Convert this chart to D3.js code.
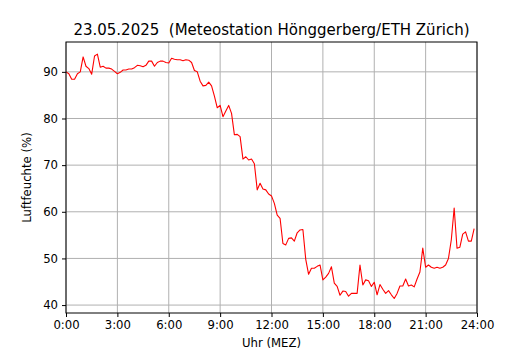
<!DOCTYPE html>
<html>
<head>
<meta charset="utf-8">
<script src="https://cdn.jsdelivr.net/npm/d3@7"></script>
<style>
  body { margin: 0; background: #fff; }
  svg { display: block; font-family: "DejaVu Sans", sans-serif; }
</style>
</head>
<body>
<div id="chart"></div>
<script>
// Luftfeuchte 23.05.2025, Werte alle 10 Minuten ab 0:00
const stepMinutes = 10;
const humidity = [
  90.0, 89.6, 88.4, 88.4, 89.6, 90.0, 93.2, 91.2, 90.7, 89.5, 93.4, 93.8,
  91.0, 91.2, 90.8, 90.8, 90.6, 90.1, 89.6, 89.9, 90.4, 90.4, 90.6, 90.6,
  90.9, 91.4, 91.3, 91.1, 91.4, 92.3, 92.3, 91.2, 92.0, 92.3, 92.3, 92.0,
  91.9, 92.9, 92.7, 92.6, 92.6, 92.4, 92.6, 92.5, 92.0, 90.3, 90.0, 88.0,
  87.0, 87.1, 87.8, 87.0, 84.8, 82.3, 82.8, 80.4, 81.6, 82.8, 81.1, 76.5,
  76.6, 76.1, 71.3, 71.8, 71.1, 71.3, 70.3, 64.7, 66.1, 64.9, 64.7, 63.8,
  63.4, 61.8, 59.3, 58.6, 53.2, 52.9, 54.3, 54.4, 53.7, 55.5, 56.1, 56.2,
  49.8, 46.6, 47.9, 47.9, 48.3, 48.6, 45.4, 46.0, 46.8, 48.2, 44.7, 44.0,
  42.1, 43.0, 42.9, 41.9, 42.5, 42.5, 42.5, 48.6, 44.3, 45.4, 45.2, 44.0,
  44.9, 42.2, 44.4, 43.4, 42.5, 43.1, 42.2, 41.4, 42.5, 44.1, 44.1, 45.6,
  44.1, 44.3, 43.9, 45.6, 47.1, 52.2, 48.1, 48.6, 48.1, 47.9, 48.1, 47.9,
  48.1, 48.6, 50.0, 54.0, 60.8, 52.2, 52.4, 55.2, 55.7, 53.7, 53.7, 56.4
];
const xTicks = [0, 3, 6, 9, 12, 15, 18, 21, 24];
const xTickLabels = ['0:00', '3:00', '6:00', '9:00', '12:00', '15:00', '18:00', '21:00', '24:00'];
const yTicks = [40, 50, 60, 70, 80, 90];
const titleText = '23.05.2025  (Meteostation Hönggerberg/ETH Zürich)';

const width = 530, height = 350;
const margin = { top: 42, right: 53, bottom: 37, left: 66 };
const w = width - margin.left - margin.right;
const h = height - margin.top - margin.bottom;

const data = humidity.map((v, i) => ({ hour: i * stepMinutes / 60, value: v }));

const svg = d3.select('#chart').append('svg')
  .attr('width', width)
  .attr('height', height);

const g = svg.append('g')
  .attr('transform', `translate(${margin.left},${margin.top})`);

const x = d3.scaleLinear().domain([0, 24]).range([0, w]);
const y = d3.scaleLinear().domain([38.3, 96.4]).range([h, 0]);

// grid
g.append('g')
  .selectAll('line')
  .data(xTicks)
  .join('line')
  .attr('x1', d => x(d)).attr('x2', d => x(d))
  .attr('y1', 0).attr('y2', h)
  .attr('stroke', '#b0b0b0').attr('stroke-width', 1);

g.append('g')
  .selectAll('line')
  .data(yTicks)
  .join('line')
  .attr('x1', 0).attr('x2', w)
  .attr('y1', d => y(d)).attr('y2', d => y(d))
  .attr('stroke', '#b0b0b0').attr('stroke-width', 1);

// line
const line = d3.line()
  .x(d => x(d.hour))
  .y(d => y(d.value));

g.append('path')
  .datum(data)
  .attr('fill', 'none')
  .attr('stroke', '#ff0000')
  .attr('stroke-width', 1.1)
  .attr('stroke-linejoin', 'round')
  .attr('d', line);

// axes
const xAxis = g.append('g')
  .attr('transform', `translate(0,${h})`)
  .call(d3.axisBottom(x).tickValues(xTicks).tickFormat((d, i) => xTickLabels[i]).tickSize(4).tickPadding(4));

const yAxis = g.append('g')
  .call(d3.axisLeft(y).tickValues(yTicks).tickSize(4).tickPadding(4));

[xAxis, yAxis].forEach(ax => {
  ax.select('.domain').remove();
  ax.selectAll('line').attr('stroke', '#000').attr('stroke-width', 1);
  ax.selectAll('text')
    .attr('fill', '#000')
    .style('font-family', '"DejaVu Sans", sans-serif')
    .style('font-size', '11.7px');
});

// frame
g.append('rect')
  .attr('x', 0).attr('y', 0)
  .attr('width', w).attr('height', h)
  .attr('fill', 'none')
  .attr('stroke', '#000')
  .attr('stroke-width', 1);

// texts
svg.append('text')
  .attr('x', margin.left + w / 2)
  .attr('y', 35)
  .attr('text-anchor', 'middle')
  .attr('font-size', '15px')
  .attr('fill', '#000')
  .style('white-space', 'pre')
  .text(titleText);

svg.append('text')
  .attr('x', margin.left + w / 2)
  .attr('y', 347)
  .attr('text-anchor', 'middle')
  .attr('font-size', '11.7px')
  .attr('fill', '#000')
  .text('Uhr (MEZ)');

svg.append('text')
  .attr('transform', `translate(31,${margin.top + h / 2}) rotate(-90)`)
  .attr('text-anchor', 'middle')
  .attr('font-size', '11.7px')
  .attr('fill', '#000')
  .text('Luftfeuchte (%)');
</script>
</body>
</html>
